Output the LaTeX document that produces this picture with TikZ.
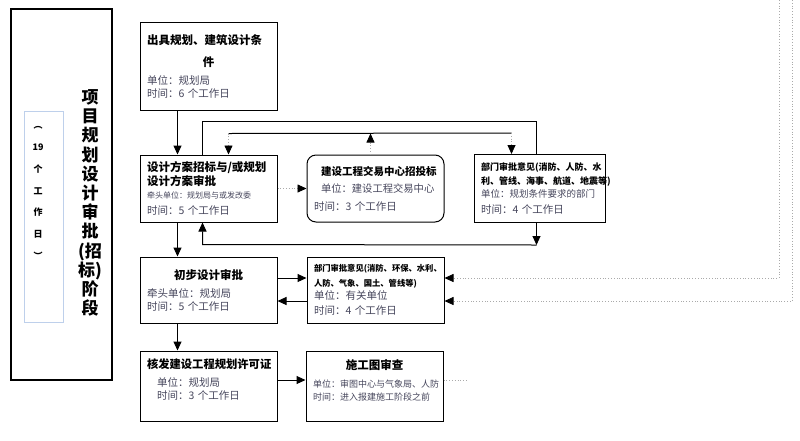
\documentclass[tikz,border=0pt]{standalone}
\usepackage{fontspec}
\setmainfont{Noto Sans CJK SC}
\usetikzlibrary{positioning,arrows.meta}

\definecolor{infogray}{RGB}{70,70,92}
\definecolor{dayblue}{RGB}{190,208,235}
\definecolor{dotgray}{RGB}{170,170,170}

\newcommand{\titlefont}{\bfseries\fontsize{11.5}{13}\selectfont}
\newcommand{\infofont}{\color{infogray}\fontsize{10.5}{13}\selectfont}
\newcommand{\midline}[1]{\hfill{#1}\hfill\null}

\begin{document}
\begin{tikzpicture}[x=1pt,y=1pt,
  box/.style={draw,line width=1pt,text width=123pt,inner xsep=7pt,inner ysep=2pt,align=left,font=\fontsize{10.5}{13}\selectfont},
  rbox/.style={box,rounded corners=9pt},
  arr/.style={line width=1pt,-{Triangle[length=9pt,width=8pt]}},
  dotarr/.style={dotgray,dotted,line width=0.8pt,-{Triangle[length=9pt,width=8pt,color=black]}},
  dotline/.style={dotgray,dotted,line width=0.8pt}
]
\useasboundingbox (0,0) rectangle (800,-440);

% stage column
\node[draw,line width=1.3pt,minimum width=101pt,minimum height=371pt] (stage) at (61.5,-194.5) {};
\node[font=\bfseries\fontsize{17}{19.2}\selectfont,align=center] (stagename) at (90,-203)
  {项\\目\\规\\划\\设\\计\\审\\批\\(招\\标)\\阶\\段};
\node[draw=dayblue,line width=0.8pt,minimum width=39pt,minimum height=211pt] (daybox) at (43.5,-216.5) {};
\node[font=\bfseries\fontsize{9}{21.7}\selectfont,align=center] (days) at (38,-193)
  {︵\\19\\个\\工\\作\\日\\︶};

% planning boxes
\node[box,minimum height=88pt] (plan) at (208.5,-66)
  {{\titlefont 出具规划、建筑设计条}\\[9pt]
   \midline{\titlefont 件}\\[5pt]
   {\infofont 单位：规划局}\\
   {\infofont 时间：6 个工作日}};
\node[box,minimum height=67pt,below=44pt of plan] (tender)
  {{\titlefont 设计方案招标与/或规划}\\[1pt]
   {\titlefont 设计方案审批}\\
   {\infofont\fontsize{8}{13}\selectfont 牵头单位：规划局与或发改委}\\[3pt]
   {\infofont 时间：5 个工作日}};
\node[rbox,minimum height=67pt,right=29pt of tender] (exch)
  {\leftskip=7pt
   {\titlefont\fontsize{10.5}{13}\selectfont 建设工程交易中心招投标}\\[4pt]
   {\infofont\fontsize{10.3}{13}\selectfont 单位：建设工程交易中心}\\[5pt]
   {\infofont 时间：3 个工作日}};
\node[box,text width=117pt,minimum height=68pt,right=29pt of exch] (dept)
  {{\bfseries\fontsize{9}{13}\selectfont 部门审批意见(消防、人防、水}\\[1pt]
   {\bfseries\fontsize{9}{13}\selectfont 利、管线、海事、航道、地震等)}\\
   {\infofont\fontsize{9.5}{13}\selectfont 单位：规划条件要求的部门}\\[3pt]
   {\infofont 时间：4 个工作日}};

% approval boxes
\node[box,minimum height=66pt,below=34pt of tender] (prelim)
  {\midline{\titlefont 初步设计审批}\\[5pt]
   {\infofont 牵头单位：规划局}\\
   {\infofont 时间：5 个工作日}};
\node[box,minimum height=66pt,right=29pt of prelim] (review)
  {{\bfseries\fontsize{8.3}{13}\selectfont 部门审批意见(消防、环保、水利、}\\[2pt]
   {\bfseries\fontsize{8.3}{13}\selectfont 人防、气象、国土、管线等)}\\
   {\infofont 单位：有关单位}\\[2pt]
   {\infofont 时间：4 个工作日}};
\node[box,minimum height=70pt,below=27pt of prelim] (permit)
  {{\titlefont\fontsize{11.3}{13}\selectfont 核发建设工程规划许可证}\\[5pt]
   \hspace*{10pt}{\infofont 单位：规划局}\\
   \hspace*{10pt}{\infofont 时间：3 个工作日}\\
   \mbox{}};
\node[box,minimum height=70pt,right=28pt of permit] (check)
  {\midline{\titlefont 施工图审查}\\[5pt]
   {\infofont\fontsize{9}{13}\selectfont 单位：审图中心与气象局、人防}\\
   {\infofont\fontsize{9}{13}\selectfont 时间：进入报建施工阶段之前}\\
   \mbox{}};

% main flow
\draw[arr] ([xshift=38pt]plan.south west) -- ([xshift=38pt]tender.north west);
\draw[arr] ([xshift=38pt]tender.south west) -- ([xshift=38pt]prelim.north west);
\draw[arr] ([xshift=38pt]prelim.south west) -- ([xshift=38pt]permit.north west);
\draw[arr] ([yshift=6pt]permit.east) -- ([yshift=6pt]check.west);
\draw[dotline] ([yshift=6pt]check.east) -- ++(25pt,0) coordinate (checkout);

% tender loop
\draw[dotarr] (tender.east) -- (exch.west);
\draw[line width=1pt] ([xshift=63pt]tender.north west) |- ([xshift=63pt,yshift=33pt]dept.north west) -- ([xshift=63pt]dept.north west);
\draw[dotarr] ([xshift=-5pt]exch.north) -- ([xshift=-5pt,yshift=21pt]exch.north) coordinate (hub);
\coordinate (tl) at ([xshift=89pt,yshift=21pt]tender.north west);
\coordinate (tr) at ([xshift=38pt,yshift=21pt]dept.north west);
\draw[line width=1pt] (tl) -- (tr);
\draw[dotarr] (tl) -- (tl |- tender.north);
\draw[dotarr] (tr) -- (tr |- dept.north);
\coordinate (bl) at ([xshift=63pt,yshift=-22pt]tender.south west);
\coordinate (br) at ([xshift=63pt,yshift=-22pt]dept.south west);
\draw[arr] ([xshift=63pt]dept.south west) -- (br);
\draw[arr] (br) -- (bl) -- ([xshift=63pt]tender.south west);

% department opinions
\draw[arr] ([yshift=12pt]prelim.east) -- ([yshift=12pt]review.west);
\draw[arr] ([yshift=-11pt]review.west) -- ([yshift=-11pt]prelim.east);
\coordinate (topa) at (779,0);
\coordinate (topb) at (792,0);
\draw[dotarr] (topa) |- ([yshift=12pt]review.east);
\draw[dotarr] (topb) |- ([yshift=-11pt]review.east);
\end{tikzpicture}
\end{document}
